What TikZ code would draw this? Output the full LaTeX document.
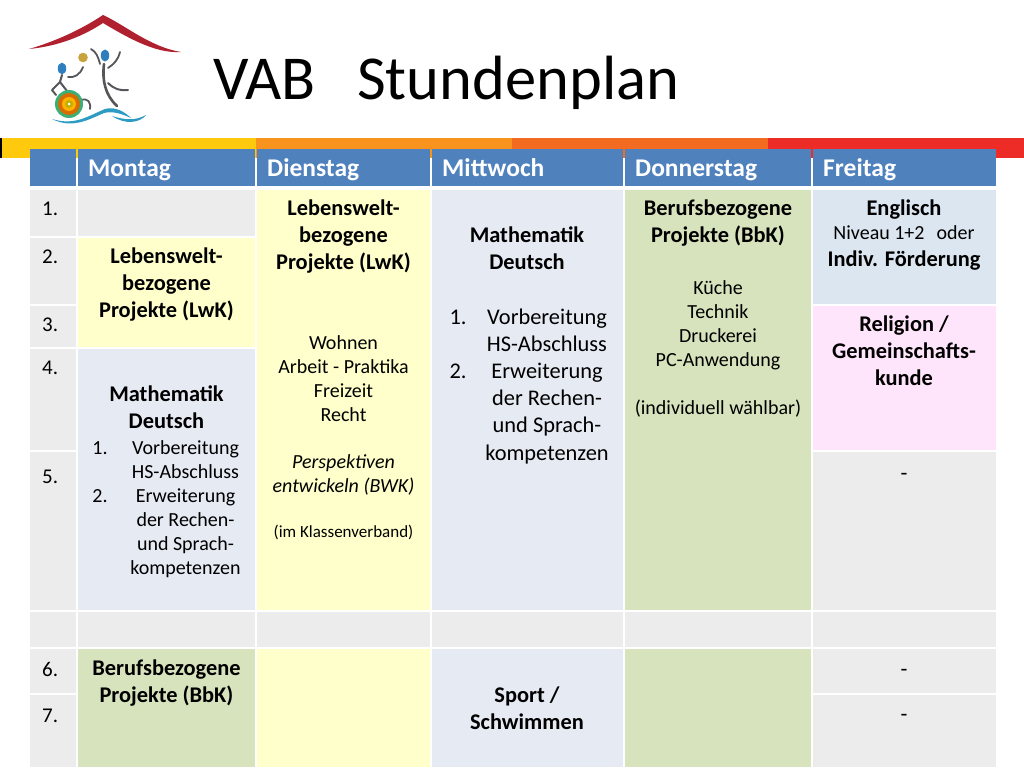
\documentclass[tikz,border=0pt]{standalone}
\usepackage{fontspec}
\setmainfont{Carlito}
\definecolor{hdr}{HTML}{4F81BD}
\definecolor{grayc}{HTML}{ECECEC}
\definecolor{yel}{HTML}{FFFFCB}
\definecolor{blu}{HTML}{E6EAF3}
\definecolor{blu2}{HTML}{DCE6F1}
\definecolor{grn}{HTML}{D7E3BC}
\definecolor{pnk}{HTML}{FFE5FB}
\definecolor{roof}{HTML}{B0202E}
\definecolor{headc}{HTML}{2F7FBF}
\definecolor{limb}{HTML}{55565A}
\definecolor{ballc}{HTML}{C8A23A}
\definecolor{water}{HTML}{2E9CC2}
\tikzset{
 cellbox/.style={fill=#1,draw=none,inner sep=0,outer sep=0,anchor=north west},
 txt/.style={align=center,inner sep=0,text=black,font=\fontsize{22.4}{27.3}\selectfont},
 btxt/.style={txt,font=\fontsize{22.4}{27.3}\selectfont\bfseries},
 small/.style={txt,font=\fontsize{20}{24}\selectfont},
 tiny/.style={txt,font=\fontsize{17}{20}\selectfont},
 head/.style={anchor=base west,inner sep=0,text=white,font=\fontsize{25.5}{26}\selectfont\bfseries},
 num/.style={anchor=base west,inner sep=0,text=black,font=\fontsize{21}{22}\selectfont},
 stroke/.style={line cap=round,line join=round},
}
\newcommand{\cell}[6]{\node[cellbox=#6,minimum width=#4pt-#2pt,minimum height=#5pt-#3pt] (#1) at (#2,#3) {};}
\begin{document}
\begin{tikzpicture}[x=1pt,y=-1pt]
\useasboundingbox (0,0) rectangle (1024,768);
\fill[white] (0,0) rectangle (1024,768);
% band
\fill[fill={rgb,255:red,255;green,201;blue,14}] (0,138) rectangle (256,158);
\fill[fill={rgb,255:red,248;green,148;blue,30}] (256,138) rectangle (512,158);
\fill[fill={rgb,255:red,242;green,107;blue,33}] (512,138) rectangle (768,158);
\fill[fill={rgb,255:red,237;green,44;blue,39}] (768,138) rectangle (1024,158);
\fill[black] (0,138) rectangle (2,158);
% logo
\fill[roof,stroke] (29,49) .. controls (60,40) and (85,27) .. (103,15) .. controls (125,25) and (150,47) .. (181,52) .. controls (155,54) and (125,36) .. (103,23) .. controls (85,35) and (60,46) .. (29,49) -- cycle;
\fill[headc] (62,68.5) ellipse (4.2 and 5.8);
\fill[headc] (105,55.5) ellipse (4.2 and 6);
\fill[ballc] (83,57.5) circle (4.8);
\draw[limb,line width=2pt,stroke] (62,75) -- (60,82) -- (52,90) -- (56,95);
\draw[limb,line width=2pt,stroke] (60,82) -- (67,91);
\draw[limb,line width=1.8pt,stroke] (68,77) .. controls (74,78) and (80,75) .. (83,67);
\draw[limb,line width=1.8pt,stroke] (81,100) .. controls (88,98) and (91,102) .. (90,109);
\draw[limb,line width=2.6pt,stroke] (104,64) .. controls (102,80) and (105,95) .. (117,106);
\draw[limb,line width=1.8pt,stroke] (108,68) .. controls (114,64) and (118,60) .. (120,52);
\draw[limb,line width=1.8pt,stroke] (100,64) .. controls (98,56) and (96,52) .. (91,49);
\draw[limb,line width=2pt,stroke] (108,83) .. controls (114,89) and (120,91) .. (128,90);
\fill[water!60!green!70!gray] (69,104) circle (14);
\fill[orange!85!black] (69,104) circle (11);
\fill[orange!60!yellow] (69,104) circle (7);
\fill[olive!60!yellow] (69,104) circle (4);
\fill[white] (69,104) circle (1.5);
\fill[water,stroke] (52,119) .. controls (75,126) and (88,116) .. (105,109) .. controls (115,106) and (125,112) .. (131,118) .. controls (120,113) and (112,111) .. (104,113) .. controls (88,120) and (72,129) .. (52,119) -- cycle;
\fill[water,stroke] (112,116) .. controls (125,120) and (135,121) .. (146,115) .. controls (140,123) and (125,125) .. (112,116) -- cycle;
% title
\node[anchor=base west,inner sep=0,text=black,font=\fontsize{62.5}{62}\selectfont] (title) at (213,99) {VAB};
\node[anchor=base west,inner sep=0,text=black,font=\fontsize{62.5}{62}\selectfont] (title2) at (357,99) {Stundenplan};
% header
\cell{h0}{30}{149}{76}{186}{hdr}
\cell{h1}{78}{149}{255}{186}{hdr}
\cell{h2}{257}{149}{430}{186}{hdr}
\cell{h3}{432}{149}{623}{186}{hdr}
\cell{h4}{625}{149}{811}{186}{hdr}
\cell{h5}{813}{149}{996}{186}{hdr}
\node[head] (hm) at (88,176) {Montag};
\node[head] (hd) at (267,176) {Dienstag};
\node[head] (hw) at (442,176) {Mittwoch};
\node[head] (ht) at (635,176) {Donnerstag};
\node[head] (hf) at (823,176) {Freitag};
% first column
\cell{n1}{30}{190}{76}{236}{grayc}
\cell{n2}{30}{238}{76}{304}{grayc}
\cell{n3}{30}{306}{76}{347}{grayc}
\cell{n4}{30}{349}{76}{450}{grayc}
\cell{n5}{30}{452}{76}{610}{grayc}
\cell{n8}{30}{612}{76}{647}{grayc}
\cell{n6}{30}{649}{76}{693}{grayc}
\cell{n7}{30}{695}{76}{767}{grayc}
\node[num] (t1) at (42,215) {1.};
\node[num] (t2) at (42,263) {2.};
\node[num] (t3) at (42,331) {3.};
\node[num] (t4) at (42,374) {4.};
\node[num] (t5) at (42,483) {5.};
\node[num] (t6) at (42,676) {6.};
\node[num] (t7) at (42,722) {7.};
% Montag
\cell{m1}{78}{190}{255}{236}{grayc}
\cell{m2}{78}{238}{255}{347}{yel}
\cell{m4}{78}{349}{255}{610}{blu}
\cell{m8}{78}{612}{255}{647}{grayc}
\cell{m6}{78}{649}{255}{767}{grn}
\node[btxt,anchor=base] (mt2) at (166.5,317.6) {Lebenswelt-\\bezogene\\Projekte (LwK)};
\node[btxt,anchor=base] (mt4) at (166.5,428.3) {Mathematik\\Deutsch};
\node[small,anchor=base] (mt5a) at (185.5,478) {Vorbereitung\\HS-Abschluss};
\node[small,anchor=base] (mt5b) at (185.5,574) {Erweiterung\\der Rechen-\\und Sprach-\\kompetenzen};
\node[small,anchor=base] (ml1) at (100,454) {1.};
\node[small,anchor=base] (ml2) at (100,502) {2.};
\node[btxt,anchor=base] (mt6) at (166.5,702.3) {Berufsbezogene\\Projekte (BbK)};
% Dienstag
\cell{d1}{257}{190}{430}{610}{yel}
\cell{d8}{257}{612}{430}{647}{grayc}
\cell{d6}{257}{649}{430}{767}{yel}
\node[btxt,anchor=base] (dt1) at (343.5,269.6) {Lebenswelt-\\bezogene\\Projekte (LwK)};
\node[small,anchor=base] (dt2) at (343.5,421) {Wohnen\\Arbeit - Praktika\\Freizeit\\Recht};
\node[small,anchor=base,font=\fontsize{20}{24}\selectfont\itshape] (dt3) at (343.5,492) {Perspektiven\\entwickeln (BWK)};
\node[tiny,anchor=base] (dt4) at (343.5,537) {(im Klassenverband)};
% Mittwoch
\cell{w1}{432}{190}{623}{610}{blu}
\cell{w8}{432}{612}{623}{647}{grayc}
\cell{w6}{432}{649}{623}{767}{blu}
\node[btxt,anchor=base] (wt1) at (527,269.3) {Mathematik\\Deutsch};
\node[txt,anchor=base] (wt2) at (547,351.3) {Vorbereitung\\HS-Abschluss};
\node[txt,anchor=base] (wt3) at (547,460) {Erweiterung\\der Rechen-\\und Sprach-\\kompetenzen};
\node[txt,anchor=base] (wl1) at (458,324) {1.};
\node[txt,anchor=base] (wl2) at (458,378) {2.};
\node[btxt,anchor=base] (wt6) at (527,729.3) {Sport /\\Schwimmen};
% Donnerstag
\cell{o1}{625}{190}{811}{610}{grn}
\cell{o8}{625}{612}{811}{647}{grayc}
\cell{o6}{625}{649}{811}{767}{grn}
\node[btxt,anchor=base] (ot1) at (718,242.3) {Berufsbezogene\\Projekte (BbK)};
\node[small,anchor=base] (ot2) at (718,366) {Küche\\Technik\\Druckerei\\PC-Anwendung};
\node[small,anchor=base] (ot3) at (718,414) {(individuell wählbar)};
% Freitag
\cell{f1}{813}{190}{996}{304}{blu2}
\cell{f3}{813}{306}{996}{450}{pnk}
\cell{f5}{813}{452}{996}{610}{grayc}
\cell{f8}{813}{612}{996}{647}{grayc}
\cell{f6}{813}{649}{996}{693}{grayc}
\cell{f7}{813}{695}{996}{767}{grayc}
\node[btxt,anchor=base] (ft1) at (904,215) {Englisch};
\node[small,anchor=base] (ft2) at (904,239) {Niveau 1+2\hspace{.6em}oder};
\node[btxt,anchor=base] (ft3) at (904,266) {Indiv. Förderung};
\node[btxt,anchor=base] (ft4) at (904,385.6) {Religion /\\Gemeinschafts-\\kunde};
\node[txt,anchor=base] (ft5) at (904,480) {-};
\node[txt,anchor=base] (ft6) at (904,676) {-};
\node[txt,anchor=base] (ft7) at (904,721) {-};
\end{tikzpicture}
\end{document}
